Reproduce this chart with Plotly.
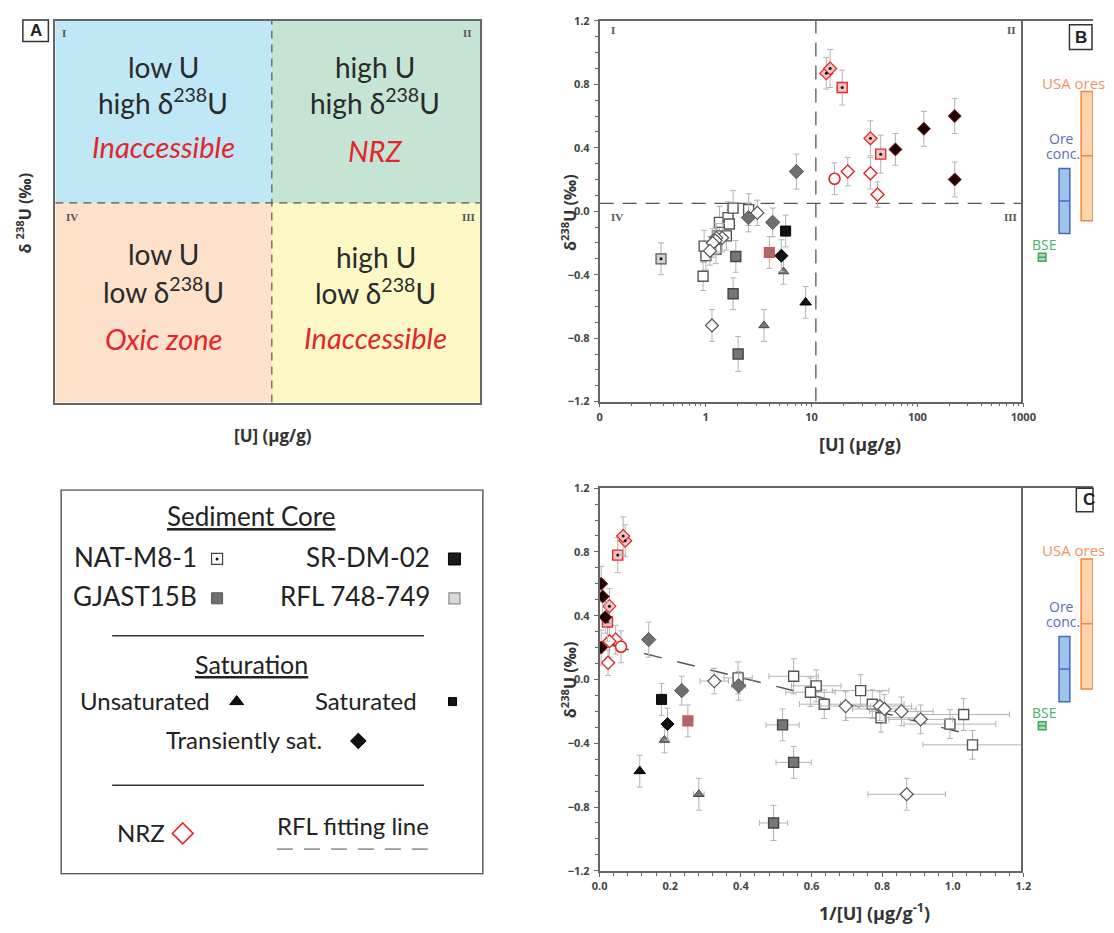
import plotly.graph_objects as go

# page is 1114x933 with the browser's default 8px body margin
PAGE_W, PAGE_H = 1114, 933
OFF = 8
W, H = PAGE_W - 2 * OFF, PAGE_H - 2 * OFF

# ---------------- DATA ----------------
# thresholds (panel B)
u_threshold = 11.0
d_threshold = 0.05

# NRZ, NAT-M8-1 (diamond with dot)
nrz_nat_dia_u = [13.8, 15.0, 36.0]
nrz_nat_dia_d = [0.87, 0.90, 0.46]
nrz_nat_dia_e = [0.10, 0.12, 0.11]
nrz_nat_dia_xe = [0.006, 0.006, 0.004]
# NRZ, NAT-M8-1 (square with dot)
nrz_nat_sq_u = [19.5, 45.0]
nrz_nat_sq_d = [0.78, 0.36]
nrz_nat_sq_e = [0.11, 0.12]
nrz_nat_sq_xe = [0.006, 0.004]
# NRZ open diamonds
nrz_open_u = [22.0, 36.0, 42.0]
nrz_open_d = [0.25, 0.24, 0.105]
nrz_open_e = [0.09, 0.10, 0.08]
nrz_open_xe = [0.006, 0.004, 0.004]
# NRZ open circle
nrz_circ_u = [16.5]
nrz_circ_d = [0.205]
nrz_circ_e = [0.10]
nrz_circ_xe = [0.006]
# NRZ dark diamonds (transiently saturated)
nrz_dark_u = [62.0, 115.0, 225.0, 225.0]
nrz_dark_d = [0.39, 0.52, 0.60, 0.20]
nrz_dark_e = [0.10, 0.11, 0.11, 0.11]
nrz_dark_xe = [0.003, 0.002, 0.002, 0.002]
# RFL 748-749 open squares
rfl_sq_u = [0.947, 1.008, 0.970, 1.255, 1.295, 1.353, 1.572, 1.630, 1.675, 1.820, 2.550]
rfl_sq_d = [-0.41, -0.28, -0.22, -0.24, -0.155, -0.07, -0.155, -0.04, -0.08, 0.02, 0.01]
rfl_sq_e = [0.09, 0.09, 0.10, 0.09, 0.09, 0.10, 0.09, 0.10, 0.09, 0.11, 0.10]
rfl_sq_xe = [0.14, 0.13, 0.13, 0.10, 0.09, 0.08, 0.07, 0.07, 0.07, 0.07, 0.04]
# RFL 748-749 open diamonds
rfl_dia_u = [3.08, 1.435, 1.26, 1.24, 1.17, 1.10, 1.15]
rfl_dia_d = [-0.01, -0.167, -0.167, -0.185, -0.20, -0.25, -0.72]
rfl_dia_e = [0.08, 0.09, 0.09, 0.09, 0.09, 0.09, 0.10]
rfl_dia_xe = [0.04, 0.07, 0.09, 0.09, 0.09, 0.09, 0.11]
# GJAST15B squares
gj_sq_u = [1.93, 1.82, 2.03]
gj_sq_d = [-0.285, -0.52, -0.90]
gj_sq_e = [0.10, 0.10, 0.11]
gj_sq_xe = [0.047, 0.05, 0.04]
# GJAST15B diamonds
gj_dia_u = [7.2, 2.54, 4.3]
gj_dia_d = [0.25, -0.04, -0.07]
gj_dia_e = [0.11, 0.09, 0.09]
gj_dia_xe = [0.005, 0.02, 0.015]
# GJAST15B triangles
gj_tri_u = [3.56, 5.45]
gj_tri_d = [-0.72, -0.38]
gj_tri_e = [0.10, 0.08]
gj_tri_xe = [0.015, 0.01]
# NAT-M8-1 (not NRZ)
nat_u = [0.38]
nat_d = [-0.30]
nat_e = [0.10]
nat_xe = [0.0]
# red-outlined GJAST square
gj_red_u = [4.0]
gj_red_d = [-0.26]
gj_red_e = [0.10]
gj_red_xe = [0.012]
# SR-DM-02
sr_sq_u = [5.7]
sr_sq_d = [-0.125]
sr_sq_e = [0.10]
sr_dia_u = [5.2]
sr_dia_d = [-0.28]
sr_dia_e = [0.10]
sr_tri_u = [8.8]
sr_tri_d = [-0.575]
sr_tri_e = [0.10]

# RFL fitting line (panel C)
fit_x = [0.033, 1.03]
fit_y = [0.214, -0.335]

# reference ranges (right-hand strips)
ore_names = ["BSE", "Ore conc.", "USA ores"]
ore_low = [-0.315, -0.14, -0.06]
ore_high = [-0.265, 0.27, 0.755]
ore_med = [-0.29, 0.065, 0.35]

# quadrant texts (panel A)
quad_lines = {
    "I": ["low U", "high δ<sup>238</sup>U", "Inaccessible"],
    "II": ["high U", "high δ<sup>238</sup>U", "NRZ"],
    "IV": ["low U", "low δ<sup>238</sup>U", "Oxic zone"],
    "III": ["high U", "low δ<sup>238</sup>U", "Inaccessible"],
}

yticks = [-1.2, -0.8, -0.4, 0.0, 0.4, 0.8, 1.2]
b_xtickvals = [0.1, 1, 10, 100, 1000]
b_xticktext = ["0", "1", "10", "100", "1000"]
c_xticks = [0.0, 0.2, 0.4, 0.6, 0.8, 1.0, 1.2]

# ---------------- helpers ----------------
def PX(p):
    return min(1.0, max(0.0, (p - OFF) / W))


def PY(p):
    return min(1.0, max(0.0, 1 - (p - OFF) / H))


fig = go.Figure()

EB = "#b3b3b3"
RED = "#e3262b"


def add_group(u, d, e, xe, sym, size, fill, line, lw=1.3, dot=False):
    inv = [1.0 / v for v in u]
    fig.add_trace(go.Scatter(
        x=u, y=d, mode="markers", xaxis="x2", yaxis="y2",
        error_y=dict(type="data", array=e, color=EB, thickness=1, width=3),
        marker=dict(symbol=sym, size=size, color=fill, line=dict(color=line, width=lw)),
        hoverinfo="skip"))
    inv_keep = [(a, b, c, f) for a, b, c, f in zip(inv, d, e, xe) if a <= 1.2]
    if inv_keep:
        fig.add_trace(go.Scatter(
            x=[k[0] for k in inv_keep], y=[k[1] for k in inv_keep], mode="markers",
            xaxis="x4", yaxis="y4",
            error_y=dict(type="data", array=[k[2] for k in inv_keep], color=EB, thickness=1, width=3),
            error_x=dict(type="data", array=[k[3] for k in inv_keep], color=EB, thickness=1, width=3),
            marker=dict(symbol=sym, size=size, color=fill, line=dict(color=line, width=lw)),
            hoverinfo="skip"))
    if dot:
        fig.add_trace(go.Scatter(x=u, y=d, mode="markers", xaxis="x2", yaxis="y2",
                                 marker=dict(symbol="circle", size=3, color="#111"), hoverinfo="skip"))
        if inv_keep:
            fig.add_trace(go.Scatter(x=[k[0] for k in inv_keep], y=[k[1] for k in inv_keep],
                                     mode="markers", xaxis="x4", yaxis="y4",
                                     marker=dict(symbol="circle", size=3, color="#111"), hoverinfo="skip"))


# threshold dashed lines (panel B)
fig.add_trace(go.Scatter(x=[0.1, 1000], y=[d_threshold, d_threshold], mode="lines", xaxis="x2", yaxis="y2",
                         line=dict(color="#555", width=1.3, dash="14px,9px"), hoverinfo="skip"))
fig.add_trace(go.Scatter(x=[u_threshold, u_threshold], y=[-1.2, 1.2], mode="lines", xaxis="x2", yaxis="y2",
                         line=dict(color="#555", width=1.3, dash="14px,9px"), hoverinfo="skip"))
# RFL fitting line (panel C)
fig.add_trace(go.Scatter(x=fit_x, y=fit_y, mode="lines", xaxis="x4", yaxis="y4",
                         line=dict(color="#555", width=1.5, dash="18px,16px"), hoverinfo="skip"))

add_group(rfl_sq_u, rfl_sq_d, rfl_sq_e, rfl_sq_xe, "square", 10, "white", "#555", 1.4)
add_group(rfl_dia_u, rfl_dia_d, rfl_dia_e, rfl_dia_xe, "diamond", 10, "white", "#555", 1.2)
add_group(gj_sq_u, gj_sq_d, gj_sq_e, gj_sq_xe, "square", 10, "#777", "#444", 1.4)
add_group(gj_dia_u, gj_dia_d, gj_dia_e, gj_dia_xe, "diamond", 11, "#6f6f6f", "#555", 1.0)
add_group(gj_tri_u, gj_tri_d, gj_tri_e, gj_tri_xe, "triangle-up", 9, "#777", "#444", 1.0)
add_group(nat_u, nat_d, nat_e, nat_xe, "square", 10, "#d0d0d0", "#555", 1.2, dot=True)
add_group(gj_red_u, gj_red_d, gj_red_e, gj_red_xe, "square", 10, "#a86a6a", "#e05050", 1.2)
add_group(sr_sq_u, sr_sq_d, sr_sq_e, [0.0], "square", 10, "#111", "#000", 1.0)
add_group(sr_dia_u, sr_dia_d, sr_dia_e, [0.0], "diamond", 10, "#111", "#000", 1.0)
add_group(sr_tri_u, sr_tri_d, sr_tri_e, [0.0], "triangle-up", 10, "#111", "#000", 1.0)
add_group(nrz_open_u, nrz_open_d, nrz_open_e, nrz_open_xe, "diamond", 10, "white", RED, 1.4)
add_group(nrz_circ_u, nrz_circ_d, nrz_circ_e, nrz_circ_xe, "circle", 11, "white", RED, 1.6)
add_group(nrz_nat_sq_u, nrz_nat_sq_d, nrz_nat_sq_e, nrz_nat_sq_xe, "square", 10, "#f3c4c4", RED, 1.4, dot=True)
add_group(nrz_nat_dia_u, nrz_nat_dia_d, nrz_nat_dia_e, nrz_nat_dia_xe, "diamond", 10, "#f3c4c4", RED, 1.2, dot=True)
add_group(nrz_dark_u, nrz_dark_d, nrz_dark_e, nrz_dark_xe, "diamond", 10, "#1c0404", "#8a1a1a", 1.0)

# reference strips (axis spans page x 1035..1106)
ore_x = [0.27, 0.59, 0.915]
ore_w = [0.11, 0.155, 0.17]
ore_fill = ["#a9dcb4", "#a3c2ea", "#fcd3aa"]
ore_line = ["#3fa85c", "#3b6cc0", "#f0873a"]
ore_text = ["#4bb06a", "#5b6cc0", "#f39266"]
for xa, ya in (("x3", "y3"), ("x5", "y5")):
    fig.add_trace(go.Bar(x=ore_x, y=[h - l for h, l in zip(ore_high, ore_low)], base=ore_low, width=ore_w,
                         xaxis=xa, yaxis=ya,
                         marker=dict(color=ore_fill, line=dict(color=ore_line, width=1.5)), hoverinfo="skip"))
    for i in range(3):
        fig.add_trace(go.Scatter(x=[ore_x[i] - ore_w[i] / 2, ore_x[i] + ore_w[i] / 2], y=[ore_med[i], ore_med[i]],
                                 mode="lines", xaxis=xa, yaxis=ya,
                                 line=dict(color=ore_line[i], width=1.5), hoverinfo="skip"))

# legend keys (axis x6/y6 in page-pixel units)
leg_keys = [
    (213, 560, "square", 11, "white", "#444", 1.2),
    (455, 560, "square", 12, "#1a1a1a", "#000", 1),
    (213, 600, "square", 11, "#6f6f6f", "#555", 1),
    (455, 600, "square", 11, "#d9d9d9", "#888", 1.2),
    (233, 705, "triangle-up", 12, "#111", "#000", 1),
    (453, 705, "square", 8, "#111", "#000", 1),
    (357, 745, "diamond", 12, "#111", "#000", 1),
    (178, 839, "diamond", 16, "white", RED, 1.6),
]
for (lx, ly, s, sz, fc, lc, lw) in leg_keys:
    fig.add_trace(go.Scatter(x=[lx], y=[ly], mode="markers", xaxis="x6", yaxis="y6",
                             marker=dict(symbol=s, size=sz, color=fc, line=dict(color=lc, width=lw)),
                             hoverinfo="skip"))
fig.add_trace(go.Scatter(x=[213], y=[560], mode="markers", xaxis="x6", yaxis="y6",
                         marker=dict(symbol="circle", size=3, color="#111"), hoverinfo="skip"))
fig.add_trace(go.Scatter(x=[274, 432], y=[855, 855], mode="lines", xaxis="x6", yaxis="y6",
                         line=dict(color="#999", width=1.6, dash="16px,11px"), hoverinfo="skip"))

# ---------------- layout ----------------
TICKF = dict(family="Open Sans, Liberation Sans, Arial", size=11, color="#444", weight="bold")
AX = "#666"


def yax(dom_top, dom_bot, anchor):
    return dict(domain=[PY(dom_bot), PY(dom_top)], anchor=anchor, range=[-1.2, 1.2],
                tickvals=yticks, tickformat=".1f", ticks="outside", ticklen=4, tickcolor=AX,
                minor=dict(dtick=0.1, ticks="outside", ticklen=3, tickcolor=AX),
                showline=True, linecolor=AX, linewidth=1.5, showgrid=False, zeroline=False,
                tickfont=TICKF, ticklabelstandoff=2)


minor_log = [k * 10 ** e for e in range(-1, 3) for k in range(2, 10)]

layout = dict(
    width=W, height=H, margin=dict(l=0, r=0, t=0, b=0),
    paper_bgcolor="white", plot_bgcolor="white", showlegend=False, barmode="overlay",
    # panel A
    xaxis=dict(domain=[PX(48), PX(481)], anchor="y", range=[0, 1], showgrid=False, zeroline=False,
               showticklabels=False, showline=True, mirror=True, linecolor=AX, linewidth=1.5, ticks=""),
    yaxis=dict(domain=[PY(401), PY(13)], anchor="x", range=[0, 1], showgrid=False, zeroline=False,
               showticklabels=False, showline=True, mirror=True, linecolor=AX, linewidth=1.5, ticks=""),
    # panel B
    xaxis2=dict(domain=[PX(603), PX(1035)], anchor="y2", type="log", range=[-1, 3],
                tickvals=b_xtickvals, ticktext=b_xticktext, ticks="outside", ticklen=4, tickcolor=AX,
                minor=dict(tickvals=minor_log, ticks="outside", ticklen=3, tickcolor=AX),
                showline=True, mirror=True, linecolor=AX, linewidth=1.5, showgrid=False, zeroline=False,
                tickfont=TICKF),
    yaxis2=yax(13, 400, "x2"),
    xaxis3=dict(domain=[PX(1035), 1], anchor="y3", range=[0, 1], side="top", showline=True,
                linecolor=AX, linewidth=1.5, showticklabels=False, ticks="", showgrid=False, zeroline=False),
    yaxis3=dict(domain=[PY(400), PY(13)], anchor="x3", range=[-1.2, 1.2], showline=True, linecolor=AX,
                linewidth=1.5, showticklabels=False, ticks="", showgrid=False, zeroline=False),
    # panel C
    xaxis4=dict(domain=[PX(603), PX(1035)], anchor="y4", range=[0, 1.2], tickvals=c_xticks, tickformat=".1f",
                ticks="outside", ticklen=4, tickcolor=AX,
                minor=dict(dtick=0.04, ticks="outside", ticklen=3, tickcolor=AX),
                showline=True, mirror=True, linecolor=AX, linewidth=1.5, showgrid=False, zeroline=False,
                tickfont=TICKF),
    yaxis4=yax(488, 877, "x4"),
    xaxis5=dict(domain=[PX(1035), 1], anchor="y5", range=[0, 1], side="top", showline=True,
                linecolor=AX, linewidth=1.5, showticklabels=False, ticks="", showgrid=False, zeroline=False),
    yaxis5=dict(domain=[PY(877), PY(488)], anchor="x5", range=[-1.2, 1.2], showline=True, linecolor=AX,
                linewidth=1.5, showticklabels=False, ticks="", showgrid=False, zeroline=False),
    # legend panel
    xaxis6=dict(domain=[PX(53), PX(485)], anchor="y6", range=[53, 485], visible=False),
    yaxis6=dict(domain=[PY(881), PY(489)], anchor="x6", range=[881, 489], visible=False),
)
fig.update_layout(**layout)

shapes = []
# panel A quadrants
vx, hy = 0.51, 0.523
quad_col = {"I": "#bfe7f6", "II": "#c5e4d3", "IV": "#fde1ca", "III": "#fcf8c6"}
for q, (x0, x1, y0, y1) in {"I": (0, vx, hy, 1), "II": (vx, 1, hy, 1),
                           "IV": (0, vx, 0, hy), "III": (vx, 1, 0, hy)}.items():
    shapes.append(dict(type="rect", xref="x", yref="y", x0=x0, x1=x1, y0=y0, y1=y1,
                       fillcolor=quad_col[q], line=dict(width=0), layer="below"))
shapes.append(dict(type="line", xref="x", yref="y", x0=vx, x1=vx, y0=0, y1=1,
                   line=dict(color="#555", width=1.2, dash="8px,6px")))
shapes.append(dict(type="line", xref="x", yref="y", x0=0, x1=1, y0=hy, y1=hy,
                   line=dict(color="#555", width=1.2, dash="8px,6px")))
# panel label boxes
for (x0, y0, x1, y1) in [(15, 12, 41, 34), (1082, 17, 1105, 42), (1089, 488, 1120, 512)]:
    shapes.append(dict(type="rect", xref="paper", yref="paper", x0=PX(x0), x1=PX(x1), y0=PY(y1), y1=PY(y0),
                       line=dict(color="#333", width=1.5), fillcolor="white"))
# legend box and rules
shapes.append(dict(type="rect", xref="x6", yref="y6", x0=54, x1=484, y0=490, y1=880,
                   line=dict(color="#555", width=1.5)))
for yy in (638, 790):
    shapes.append(dict(type="line", xref="x6", yref="y6", x0=106, x1=424, y0=yy, y1=yy,
                       line=dict(color="#333", width=1.5)))
fig.update_layout(shapes=shapes)

ann = []
QF = "Lato, Open Sans, sans-serif"


def A(x, y, text, size, color="#222", font=QF, xanchor="center", **kw):
    ann.append(dict(x=PX(x), y=PY(y), xref="paper", yref="paper", text=text, showarrow=False,
                    xanchor=xanchor, yanchor="middle", font=dict(family=font, size=size, color=color), **kw))


quad_pos = {"I": (158, [60, 95, 141]), "II": (374, [60, 95, 145]),
            "IV": (158, [250, 287, 336]), "III": (375, [253, 288, 335])}
for q, (cx, ys) in quad_pos.items():
    lines = quad_lines[q]
    A(cx, ys[0], lines[0], 28, color="#2a2a2a")
    A(cx, ys[1], lines[1], 28, color="#2a2a2a")
    A(cx, ys[2], "<i>" + lines[2] + "</i>", 29, color=RED)

SERIF = "Liberation Serif, DejaVu Serif, serif"
for (x, y, t) in [(57, 25, "I"), (468, 25, "II"), (65, 212, "IV"), (469, 212, "III"),
                  (617, 22, "I"), (1023, 22, "II"), (621, 212, "IV"), (1022, 212, "III")]:
    A(x, y, "<b>" + t + "</b>", 11, color="#555", font=SERIF)

LBL = "Liberation Sans, Arial, sans-serif"
A(28, 23, "<b>A</b>", 17, color="#222", font=LBL)
A(1094, 30, "<b>B</b>", 17, color="#222", font=LBL)
A(1102, 500, "<b>C</b>", 17, color="#222", font=LBL)

TF = "Open Sans, Liberation Sans, sans-serif"
A(16, 208, "<b>δ <sup>238</sup>U (‰)</b>", 16, color="#333", font=TF, textangle=-90)
A(270, 434, "<b>[U] (μg/g)</b>", 17, color="#333", font=TF)
A(572, 208, "<b>δ<sup>238</sup>U (‰)</b>", 16, color="#333", font=TF, textangle=-90)
A(868, 443, "<b>[U] (μg/g)</b>", 18, color="#333", font=TF)
A(572, 683, "<b>δ<sup>238</sup>U (‰)</b>", 16, color="#333", font=TF, textangle=-90)
A(883, 919, "<b>1/[U] (μg/g<sup>-1</sup>)</b>", 18, color="#333", font=TF)

# ore labels (in strip axis coords)
OF = "Open Sans, sans-serif"
for xa, ya in (("x3", "y3"), ("x5", "y5")):
    for (x, y, t, c, xanc, fs) in [(0.24, 0.81, "USA ores", ore_text[2], "left", 15),
                                   (0.55, 0.46, "Ore", ore_text[1], "center", 14),
                                   (0.57, 0.365, "conc.", ore_text[1], "center", 14),
                                   (0.31, -0.21, "BSE", ore_text[0], "center", 14)]:
        ann.append(dict(x=x, y=y, xref=xa, yref=ya, text=t, showarrow=False, xanchor=xanc,
                        yanchor="middle", font=dict(family=OF, size=fs, color=c)))

# legend texts
LF = "Lato, Open Sans, sans-serif"
LC = "#222"


def L(x, y, text, size, xanchor="center"):
    ann.append(dict(x=x, y=y, xref="x6", yref="y6", text=text, showarrow=False, xanchor=xanchor,
                    yanchor="middle", font=dict(family=LF, size=size, color=LC)))


L(248, 516, "<u>Sediment Core</u>", 26)
L(195, 558, "NAT-M8-1", 26, "right")
L(432, 558, "SR-DM-02", 26, "right")
L(195, 598, "GJAST15B", 26, "right")
L(432, 598, "RFL 748-749", 26, "right")
L(248, 667, "<u>Saturation</u>", 25)
L(140, 704, "Unsaturated", 24)
L(365, 704, "Saturated", 24)
L(240, 744, "Transiently sat.", 24)
L(135, 838, "NRZ", 24)
L(352, 831, "RFL fitting line", 24)

fig.update_layout(annotations=ann)

fig.write_html("out.html", config={"displayModeBar": False})
